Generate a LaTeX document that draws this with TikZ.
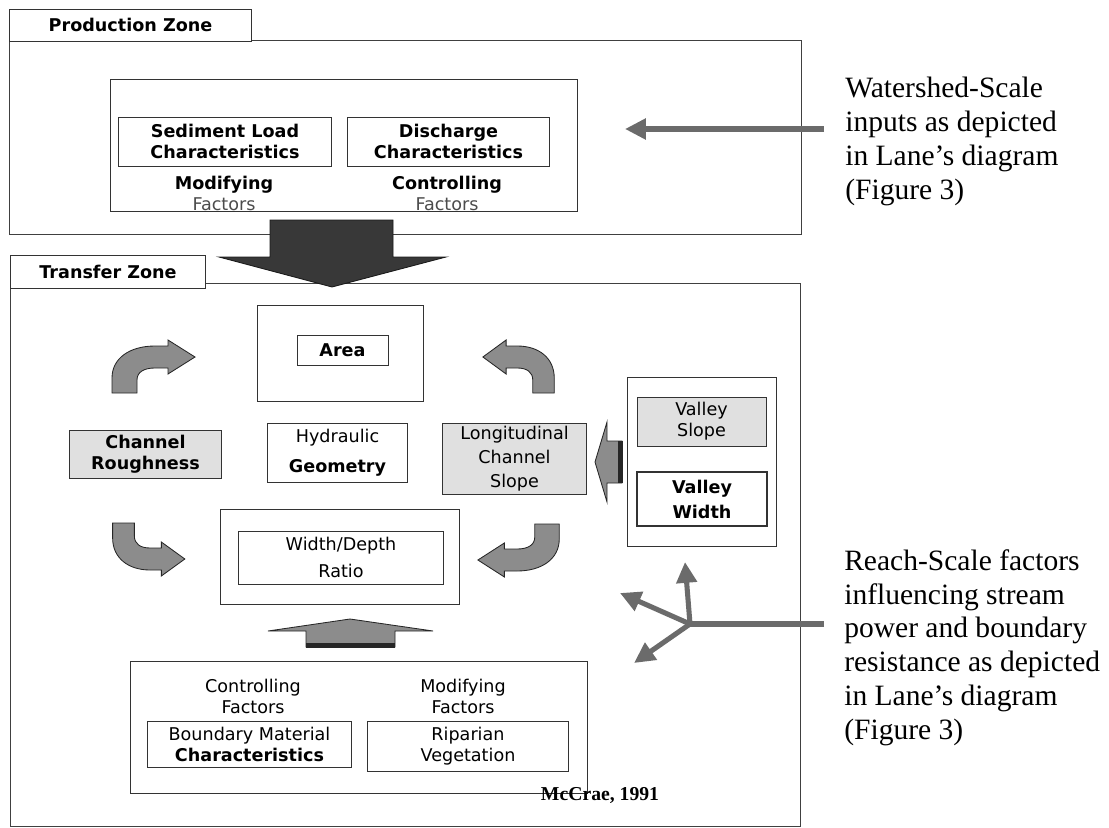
\documentclass[tikz,border=0pt]{standalone}
\usepackage{fontspec}
\usepackage{xcolor}
\usepackage{tikz}
\usetikzlibrary{positioning, arrows.meta}
\newfontfamily\boxfont{DejaVu Sans}
\newfontfamily\notefont{Liberation Serif}

\begin{document}
\begin{tikzpicture}[
    x=0.025cm, y=-0.025cm,
    zone/.style={
        draw=black!75,
        line width=0.6pt,
        inner sep=0pt
    },
    zonetab/.style={
        draw=black!80,
        line width=0.7pt,
        fill=white,
        inner sep=0pt,
        font=\boxfont\bfseries\fontsize{12.5}{15}\selectfont
    },
    box/.style={
        draw=black!80,
        line width=0.7pt,
        align=center,
        inner sep=0pt,
        font=\boxfont\fontsize{12.5}{15}\selectfont
    },
    shaded/.style={box, fill=black!12},
    factor/.style={
        align=center,
        inner sep=0pt,
        font=\boxfont\fontsize{12.5}{15}\selectfont
    },
    note/.style={
        align=left,
        inner sep=0pt,
        font=\notefont\fontsize{21}{24.1}\selectfont
    },
    noteline/.style={
        draw=black!58,
        line width=3.6pt
    },
    notearrow/.style={
        noteline,
        -{Triangle[length=0.52cm, width=0.5cm]}
    },
    block/.style={
        fill=black!45,
        draw=black!85,
        line width=0.6pt
    },
    bent/.pic={
        \filldraw[block] (-12.5,0) -- (12.5,0) -- (12.5,-13)
            .. controls (12.5,-21) and (19.5,-25) .. (30.5,-25)
            -- (43.5,-25) -- (43.5,-19) -- (70.5,-36) -- (43.5,-53)
            -- (43.5,-47) -- (30.5,-47)
            .. controls (5.5,-47) and (-12.5,-35) .. (-12.5,-15) -- cycle;
    }
]
\useasboundingbox (0,0) rectangle (1109,827);

% Production zone
\node (pzone) at (405.5,137) [zone, minimum width=19.775cm, minimum height=4.85cm] {};
\node (ptab) at (130.5,25) [zonetab, minimum width=6.025cm, minimum height=0.8cm] {Production Zone};
\node (pinner) at (344,145.5) [box, minimum width=11.65cm, minimum height=3.275cm] {};
\node (sed) at (225,141.5) [box, minimum width=5.3cm, minimum height=1.225cm] {\textbf{Sediment Load}\\\textbf{Characteristics}};
\node (dis) at (448.5,141.5) [box, minimum width=5.025cm, minimum height=1.225cm] {\textbf{Discharge}\\\textbf{Characteristics}};
\node (pmod) at (224,193) [factor] {\textbf{Modifying}\\\textcolor{black!70}{Factors}};
\node (pcon) at (447,193) [factor] {\textbf{Controlling}\\\textcolor{black!70}{Factors}};

% Transfer zone
\node (tzone) at (405.5,554.5) [zone, minimum width=19.725cm, minimum height=13.575cm] {};
\node (ttab) at (108,271.5) [zonetab, minimum width=4.85cm, minimum height=0.825cm] {Transfer Zone};

% Big arrow between the zones
\filldraw[fill=black!78, draw=black!90, line width=0.6pt] (270,220) -- (393,220) -- (393,257) -- (446,257) -- (332,287) -- (219,257) -- (270,257) -- cycle;

% Middle: hydraulic geometry
\node (areabox) at (340.5,353.5) [box, minimum width=4.125cm, minimum height=2.375cm] {};
\node (area) at (342.5,350) [box, minimum width=2.275cm, minimum height=0.75cm] {\textbf{Area}};
\node (rough) at (145.5,454) [shaded, minimum width=3.775cm, minimum height=1.2cm] {\textbf{Channel}\\\textbf{Roughness}};
\node (hydro) at (337.5,452.5) [box, minimum width=3.475cm, minimum height=1.475cm] {Hydraulic\\[0.225cm]\textbf{Geometry}};
\node (lslope) at (514.5,458.5) [shaded, minimum width=3.575cm, minimum height=1.775cm] {Longitudinal\\[0.075cm]Channel\\[0.075cm]Slope};
\node (wdbox) at (340,556.5) [box, minimum width=5.95cm, minimum height=2.375cm] {};
\node (wd) at (341,557.5) [box, minimum width=5.1cm, minimum height=1.325cm] {Width/Depth\\[0.15cm]Ratio};

% Right: valley
\node (valley) at (702,462) [box, minimum width=3.7cm, minimum height=4.2cm] {};
\node (vslope) at (701.5,421.5) [shaded, minimum width=3.225cm, minimum height=1.225cm] {Valley\\Slope};
\node (vwidth) at (702,499) [box, line width=1.6pt, minimum width=3.25cm, minimum height=1.35cm] {\textbf{Valley}\\[0.1cm]\textbf{Width}};

% Bottom: boundary factors
\node (basebox) at (359,727.5) [box, minimum width=11.4cm, minimum height=3.275cm] {};
\node (bcon) at (253,696) [factor] {Controlling\\Factors};
\node (bmod) at (463,696) [factor] {Modifying\\Factors};
\node (bound) at (249.5,744) [box, minimum width=5.075cm, minimum height=1.15cm] {Boundary Material\\\textbf{Characteristics}};
\node (ripar) at (468,746) [box, minimum width=5cm, minimum height=1.25cm] {Riparian\\Vegetation};
\node (cite) at (600,800) [anchor=base, font=\notefont\bfseries\fontsize{14}{16}\selectfont] {McCrae, 1991};

% Block arrows
\filldraw[block] (306,647) -- (306,631) -- (268,631) -- (350,619) -- (433,631) -- (395,631) -- (395,647) -- cycle;
\draw[black!85, line width=3pt] (306,645.5) -- (395,645.5);
\filldraw[block] (622,441) -- (607,441) -- (607,422) -- (595,462) -- (607,502) -- (607,483) -- (622,483) -- cycle;
\draw[black!85, line width=3pt] (620.5,441) -- (620.5,483);

% Bent arrows
\pic at (124.5,393) {bent};
\pic[xscale=-0.86] at (543.5,393) {bent};
\pic[xscale=0.87, yscale=-1] at (123.5,523) {bent};
\pic[xscale=-0.98, yscale=-1] at (547,524) {bent};

% Notes on the right
\node (wsnote) at (845,141.7) [note, anchor=west] {Watershed-Scale\\inputs as depicted\\in Lane’s diagram\\(Figure 3)};
\node (rsnote) at (844,647.7) [note, anchor=west] {Reach-Scale factors\\influencing stream\\power and boundary\\resistance as depicted\\in Lane’s diagram\\(Figure 3)};

% Note arrows
\coordinate (wsstart) at (824,129);
\coordinate (wsend) at (625,129);
\draw[notearrow] (wsstart) -- (wsend);

\coordinate (rsstart) at (824,624);
\coordinate (fork) at (690,624);
\coordinate (forkup) at (685,562);
\coordinate (forkul) at (620,593);
\coordinate (forkdl) at (634,663);
\draw[noteline] (rsstart) -- (fork);
\draw[notearrow] (fork) -- (forkup);
\draw[notearrow] (fork) -- (forkul);
\draw[notearrow] (fork) -- (forkdl);

\end{tikzpicture}
\end{document}
